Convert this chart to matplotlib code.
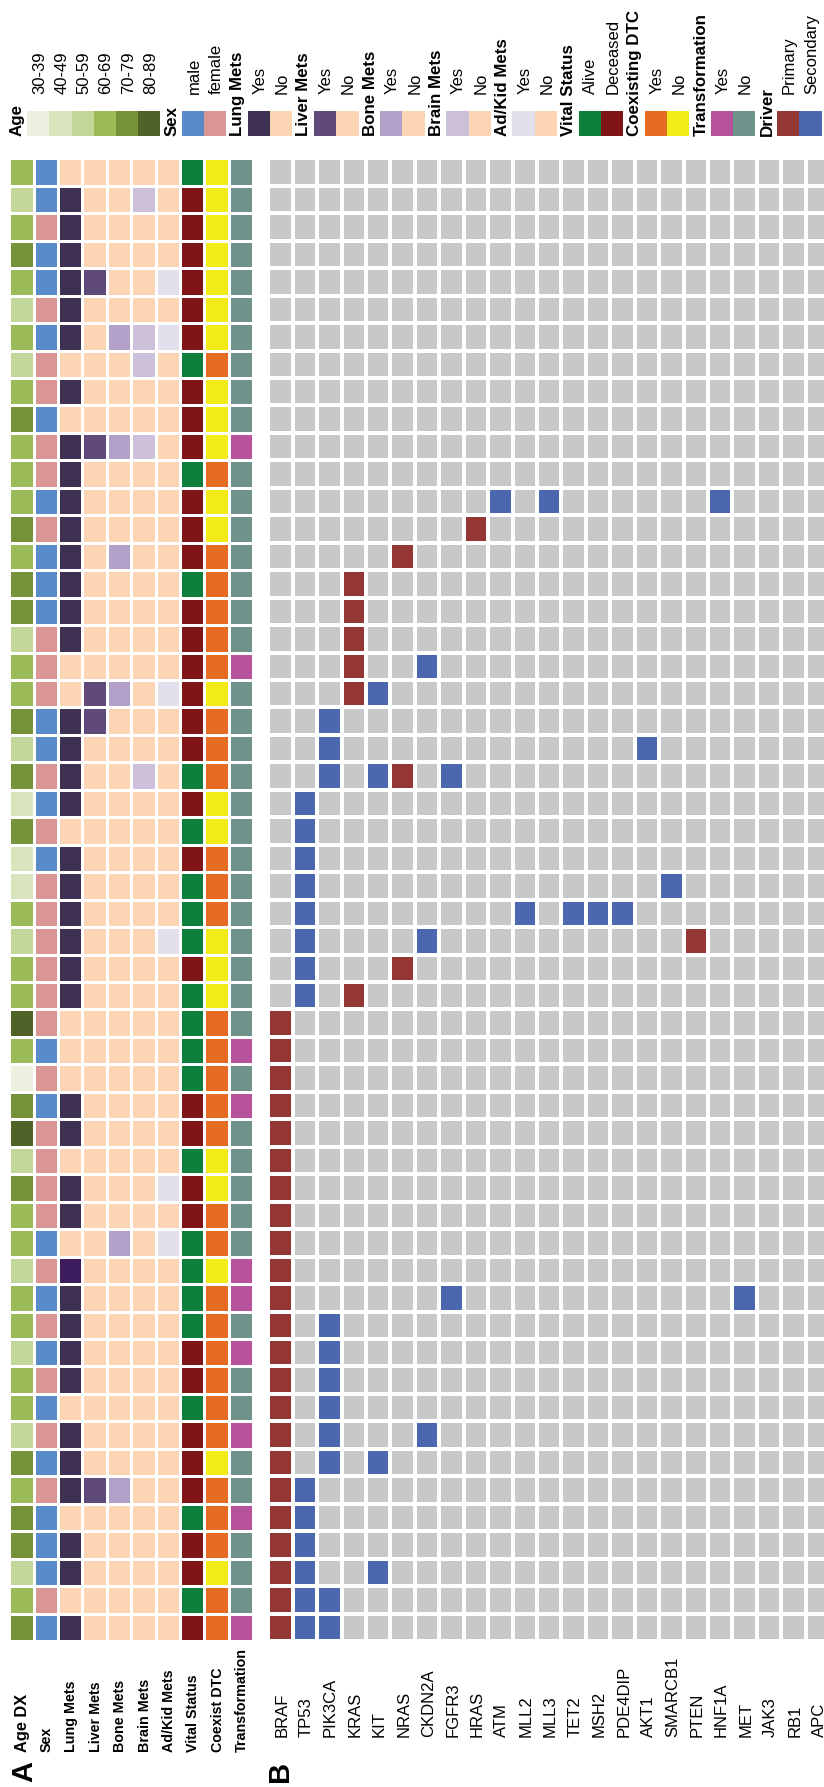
import matplotlib
matplotlib.use('Agg')
import matplotlib.pyplot as plt
import numpy as np
from matplotlib.colors import ListedColormap
from matplotlib.patches import Rectangle
from matplotlib.transforms import blended_transform_factory

plt.rcParams['font.family'] = ['Liberation Sans', 'DejaVu Sans']

# ---------------- data ----------------
n_patients = 54
age_labels = ['30-39', '40-49', '50-59', '60-69', '70-79', '80-89']
age_group = [3, 2, 3, 4, 3, 2, 3, 2, 3, 4,
             3, 3, 3, 4, 3, 4, 4, 2, 3, 3,
             4, 2, 4, 1, 4, 1, 1, 3, 2, 3,
             3, 5, 3, 0, 4, 5, 2, 4, 3, 3,
             2, 3, 3, 2, 3, 3, 2, 4, 3, 4,
             4, 2, 3, 4]
sex = list("MMFMMFMFFM" "FFMFMMMFFF" "MMFMFMFFFF" "FFMFMFFFFM" "FMFMFMFMFM" "MMFM")
# 0 = No, 1 = Yes, 2 = Yes (darker shade in the original)
lung_mets = [0, 1, 1, 1, 1, 1, 1, 0, 1, 0,
             1, 1, 1, 1, 1, 1, 1, 1, 0, 0,
             1, 1, 1, 1, 0, 1, 1, 1, 1, 1,
             1, 0, 0, 0, 1, 1, 0, 1, 1, 0,
             2, 1, 1, 1, 1, 0, 1, 1, 1, 0,
             1, 1, 0, 1]
liver_mets_yes = [5, 11, 20, 21, 49]
bone_mets_yes = [7, 11, 15, 20, 40, 49]
brain_mets_yes = [2, 7, 8, 11, 23]
adkid_mets_yes = [5, 7, 20, 29, 38, 40]
vital = list("ADDDDDDADD" "DADDDADDDD" "DDADADAAAD" "AAAADDADDA" "AAADDADDDA" "DDAD")
coexist = list("NNNNNNNYNN" "NYNNYYYYYN" "YYYNNYYYNN" "NYYYYYNNYY" "NYYYYYYNYY" "YNYY")
transformation_yes = [11, 19, 33, 35, 41, 42, 44, 47, 50, 54]

annot_labels = ['Age DX', 'Sex', 'Lung Mets', 'Liver Mets', 'Bone Mets', 'Brain Mets',
                'Ad/Kid Mets', 'Vital Status', 'Coexist DTC', 'Transformation']

genes = ['BRAF', 'TP53', 'PIK3CA', 'KRAS', 'KIT', 'NRAS', 'CKDN2A', 'FGFR3', 'HRAS',
         'ATM', 'MLL2', 'MLL3', 'TET2', 'MSH2', 'PDE4DIP', 'AKT1', 'SMARCB1', 'PTEN',
         'HNF1A', 'MET', 'JAK3', 'RB1', 'APC']
primary_driver = {
    'BRAF': list(range(32, 55)),
    'KRAS': [16, 17, 18, 19, 20, 31],
    'NRAS': [15, 23, 30],
    'HRAS': [14],
    'PTEN': [29],
}
secondary_driver = {
    'TP53': [24, 25, 26, 27, 28, 29, 30, 31, 49, 50, 51, 52, 53, 54],
    'PIK3CA': [21, 22, 23, 43, 44, 45, 46, 47, 48, 53, 54],
    'KIT': [20, 23, 48, 52],
    'CKDN2A': [19, 29, 47],
    'FGFR3': [23, 42],
    'ATM': [13],
    'MLL2': [28],
    'MLL3': [13],
    'TET2': [28],
    'MSH2': [28],
    'PDE4DIP': [28],
    'AKT1': [22],
    'SMARCB1': [27],
    'HNF1A': [13],
    'MET': [42],
}

# ---------------- colours ----------------
age_colors = ['#ebf1de', '#d8e4bc', '#c4d79b', '#9bbb59', '#76933c', '#4f6228']
sex_colors = {'M': '#588bc8', 'F': '#da9694'}
lung_colors = ['#fcd5b4', '#3f3151', '#3d1d5e']
no_color = '#fcd5b4'
liver_yes = '#604a7b'
bone_yes = '#b1a0c7'
brain_yes = '#ccc0da'
adkid_yes = '#e4dfec'
vital_colors = {'A': '#0e803e', 'D': '#801517'}
coexist_colors = {'Y': '#e66c24', 'N': '#f2eb17'}
transf_colors = {'Y': '#b7529c', 'N': '#6f938a'}
grey = '#c7c8ca'
primary_color = '#943634'
secondary_color = '#4a67b0'

W, H = 824, 1787
fig = plt.figure(figsize=(W / 100, H / 100), dpi=100)

# background axes in pixel coordinates for legend / panel letters
axL = fig.add_axes([0, 0, 1, 1])
axL.set_xlim(0, W)
axL.set_ylim(H, 0)
axL.axis('off')

# ---------------- panel A ----------------
def yes_list(rows, yes_c):
    return [yes_c if (i + 1) in rows else no_color for i in range(n_patients)]

cols = [
    [age_colors[g] for g in age_group],
    [sex_colors[s] for s in sex],
    [lung_colors[v] for v in lung_mets],
    yes_list(liver_mets_yes, liver_yes),
    yes_list(bone_mets_yes, bone_yes),
    yes_list(brain_mets_yes, brain_yes),
    yes_list(adkid_mets_yes, adkid_yes),
    [vital_colors[v] for v in vital],
    [coexist_colors[c] for c in coexist],
    [transf_colors['Y' if (i + 1) in transformation_yes else 'N'] for i in range(n_patients)],
]
colmat = np.array(cols).T  # patients x annotations
uniq = sorted(set(colmat.ravel()))
idx = np.vectorize(lambda c: uniq.index(c))(colmat)

top, bottom = 158.3, 1641.0
A_left, A_right = 9.3, 253.0
axA = fig.add_axes([A_left / W, 1 - bottom / H, (A_right - A_left) / W, (bottom - top) / H])
axA.pcolormesh(idx, cmap=ListedColormap(uniq), vmin=-0.5, vmax=len(uniq) - 0.5,
               edgecolors='white', linewidth=0.95)
axA.set_xlim(0, len(annot_labels))
axA.set_ylim(n_patients, 0)
axA.axis('off')
trA = blended_transform_factory(axA.transData, fig.transFigure)
for i, lab in enumerate(annot_labels):
    axA.text(i + 0.55, 1 - 1751.7 / H, lab, transform=trA, rotation=90, ha='center',
             va='bottom', fontsize=11.8 if i == 0 else 10.3, fontweight='bold')

# ---------------- panel B ----------------
gmat = np.zeros((n_patients, len(genes)))
for g, rows in primary_driver.items():
    for r in rows:
        gmat[r - 1, genes.index(g)] = 1
for g, rows in secondary_driver.items():
    for r in rows:
        gmat[r - 1, genes.index(g)] = 2
B_left, B_col = 268.3, 24.43
axB = fig.add_axes([B_left / W, 1 - bottom / H, B_col * len(genes) / W, (bottom - top) / H])
axB.pcolormesh(gmat, cmap=ListedColormap([grey, primary_color, secondary_color]),
               vmin=-0.5, vmax=2.5, edgecolors='white', linewidth=1.6)
axB.set_xlim(0, len(genes))
axB.set_ylim(n_patients, 0)
axB.axis('off')
trB = blended_transform_factory(axB.transData, fig.transFigure)
for j, g in enumerate(genes):
    axB.text(j + 0.55, 1 - 1736.7 / H, g, transform=trB, rotation=90, ha='center',
             va='bottom', fontsize=12)

# ---------------- legend ----------------
legend_groups = [
    ('Age', age_labels, age_colors),
    ('Sex', ['male', 'female'], [sex_colors['M'], sex_colors['F']]),
    ('Lung Mets', ['Yes', 'No'], [lung_colors[1], no_color]),
    ('Liver Mets', ['Yes', 'No'], [liver_yes, no_color]),
    ('Bone Mets', ['Yes', 'No'], [bone_yes, no_color]),
    ('Brain Mets', ['Yes', 'No'], [brain_yes, no_color]),
    ('Ad/Kid Mets', ['Yes', 'No'], [adkid_yes, no_color]),
    ('Vital Status', ['Alive', 'Deceased'], [vital_colors['A'], vital_colors['D']]),
    ('Coexisting DTC', ['Yes', 'No'], [coexist_colors['Y'], coexist_colors['N']]),
    ('Transformation', ['Yes', 'No'], [transf_colors['Y'], transf_colors['N']]),
    ('Driver', ['Primary', 'Secondary'], [primary_color, secondary_color]),
]
sw_top, sw_bot = 111.0, 136.0
label_bottom = 93.5
for gi, (title, labs, cs) in enumerate(legend_groups):
    if gi == 0:
        x0, sw = 27.3, 22.2
    else:
        x0, sw = 181.7 + 66.14 * (gi - 1), 22.3
    axL.text(x0 - 10.0, sw_bot, title, rotation=90, ha='center', va='bottom',
             fontsize=12.2, fontweight='bold')
    for k, (lab, c) in enumerate(zip(labs, cs)):
        axL.add_patch(Rectangle((x0 + k * sw, sw_top), sw, sw_bot - sw_top,
                                facecolor=c, edgecolor='none'))
        axL.text(x0 + (k + 0.55) * sw, label_bottom, lab, rotation=90, ha='center',
                 va='bottom', fontsize=12)

axL.text(24, 1771.7, 'A', rotation=90, ha='center', va='center', fontsize=21,
         fontweight='bold')
axL.text(280.5, 1771.7, 'B', rotation=90, ha='center', va='center', fontsize=21,
         fontweight='bold')

fig.savefig('out.png', dpi=100)
